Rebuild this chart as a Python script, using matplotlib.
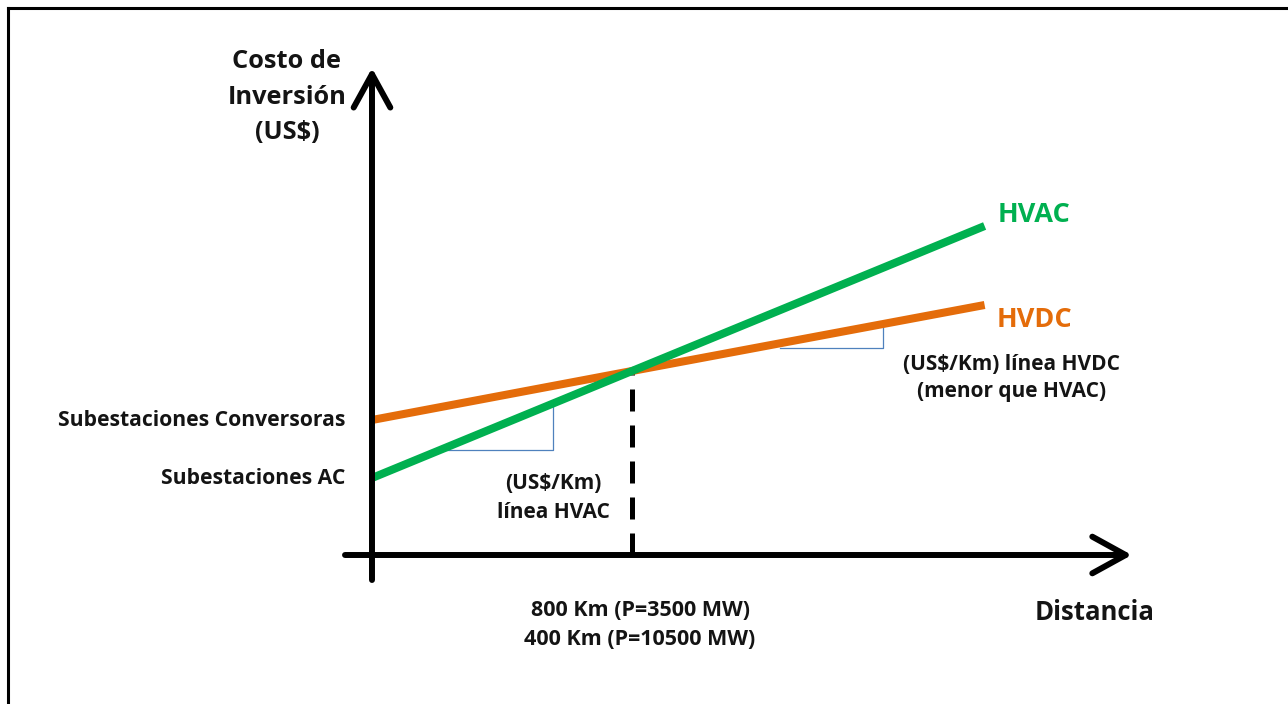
import matplotlib
matplotlib.use("Agg")
import matplotlib.pyplot as plt
from matplotlib.lines import Line2D

# distance (km) and investment cost (arbitrary units) for each technology
distance = [0, 800, 1885]
hvac_cost = [77, 184, 329]
hvdc_cost = [135, 184, 250]
crossover_km = 800
crossover_cost = 184

green = "#00B050"
orange = "#E46C0A"
blue = "#4F81BD"
ink = "#141414"

plt.rcParams["font.family"] = ["Open Sans", "DejaVu Sans"]
plt.rcParams["font.weight"] = "bold"

fig = plt.figure(figsize=(12.88, 7.04), dpi=100)
ax = fig.add_axes([0, 0, 1, 1])
ax.set_xlim(-1144.6, 2818.5)
ax.set_ylim(-149, 555)
ax.axis("off")


def cost_at(km, intercept, slope):
    return intercept + slope * km


hvac_slope = (hvac_cost[1] - hvac_cost[0]) / distance[1]
hvdc_slope = (hvdc_cost[1] - hvdc_cost[0]) / distance[1]

# frame of the figure (top and left edges only)
fig.add_artist(Line2D([8 / 1288, 1], [1 - 8 / 704, 1 - 8 / 704], color="black", lw=2.2, transform=fig.transFigure))
fig.add_artist(Line2D([8 / 1288, 8 / 1288], [0, 1 - 8 / 704], color="black", lw=2.2, transform=fig.transFigure))

# axes arrows
arrow = dict(arrowstyle="->, head_length=0.4, head_width=0.22", lw=4.3, color="black",
             mutation_scale=60, shrinkA=0, shrinkB=0)
ax.annotate("", xy=(0, 487), xytext=(0, -25), arrowprops=arrow)
ax.annotate("", xy=(2338, 0), xytext=(-83, 0), arrowprops=arrow)

# crossover marker
ax.plot([crossover_km, crossover_km], [0, crossover_cost], color="black", lw=3.6,
        dashes=(4.4, 2.8), solid_capstyle="butt")

# slope triangles
ax.plot([209, 557, 557], [105, 105, cost_at(557, hvac_cost[0], hvac_slope)], color=blue, lw=0.9)
ax.plot([1255, 1572, 1572], [207, 207, cost_at(1572, hvdc_cost[0], hvdc_slope)], color=blue, lw=0.9)

# cost lines
ax.plot(distance, hvdc_cost, color=orange, lw=5.8, solid_capstyle="butt")
ax.plot(distance, hvac_cost, color=green, lw=5.8, solid_capstyle="butt")

# labels
ax.text(-262, 458, "Costo de\nInversión\n(US$)", ha="center", va="center", fontsize=18.3,
        color=ink, linespacing=1.55)
ax.text(-83, hvdc_cost[0], "Subestaciones Conversoras", ha="right", va="center", fontsize=15.2, color=ink)
ax.text(-83, hvac_cost[0], "Subestaciones AC", ha="right", va="center", fontsize=15.2, color=ink)
ax.text(557, 57, "(US$/Km)\nlínea HVAC", ha="center", va="center", fontsize=15, color=ink,
        linespacing=1.45)
ax.text(1926, 340, "HVAC", ha="left", va="center", fontsize=19.5, color=green)
ax.text(1923, 235, "HVDC", ha="left", va="center", fontsize=19.5, color=orange)
ax.text(1969, 177, "(US$/Km) línea HVDC\n(menor que HVAC)", ha="center", va="center",
        fontsize=15, color=ink, linespacing=1.35)
ax.text(825, -70, "800 Km (P=3500 MW)\n400 Km (P=10500 MW)", ha="center", va="center",
        fontsize=15.5, color=ink, linespacing=1.5)
ax.text(2040, -58, "Distancia", ha="left", va="center", fontsize=18.5, color=ink)

fig.savefig("out.png", dpi=100)
